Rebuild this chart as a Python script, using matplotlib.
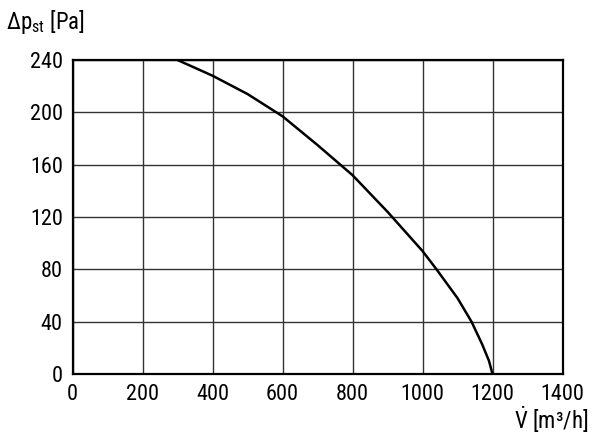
import matplotlib.pyplot as plt

plt.rcParams['font.family'] = ['Roboto Condensed', 'Liberation Sans', 'DejaVu Sans']
plt.rcParams['mathtext.fontset'] = 'custom'
plt.rcParams['mathtext.rm'] = 'Roboto Condensed'
plt.rcParams['mathtext.it'] = 'Roboto Condensed'

# Fan curve: airflow [m3/h] vs static pressure [Pa]
flow = [300, 400, 500, 600, 700, 800, 900, 1000, 1040, 1100, 1140, 1170, 1190, 1200]
pressure = [240, 228, 214, 197, 175, 152, 124, 94, 80, 58, 40, 23, 10, 0]

x_ticks = [0, 200, 400, 600, 800, 1000, 1200, 1400]
y_ticks = [0, 40, 80, 120, 160, 200, 240]

fig = plt.figure(figsize=(6, 4.38), dpi=100)
ax = fig.add_axes([72.5 / 600, 1 - 374 / 438, 490 / 600, 314 / 438])

ax.plot(flow, pressure, color='black', lw=1.8, solid_capstyle='butt',
        solid_joinstyle='round')

ax.set_xlim(0, 1400)
ax.set_ylim(0, 240)
ax.set_xticks(x_ticks)
ax.set_yticks(y_ticks)
ax.grid(True, color='#333333', lw=1.0)
ax.tick_params(length=0, labelsize=16, pad=7)
for s in ax.spines.values():
    s.set_linewidth(1.6)

fig.text(6 / 600, 1 - 22 / 438, r'$\mathrm{\Delta p_{st}}$ [Pa]', fontsize=16.5, va='center', ha='left')
fig.text(588 / 600, 1 - 420 / 438, r'$\dot{\mathrm{V}}$ [m³/h]', fontsize=16.5, va='center', ha='right')

fig.savefig('out.png', dpi=100)
